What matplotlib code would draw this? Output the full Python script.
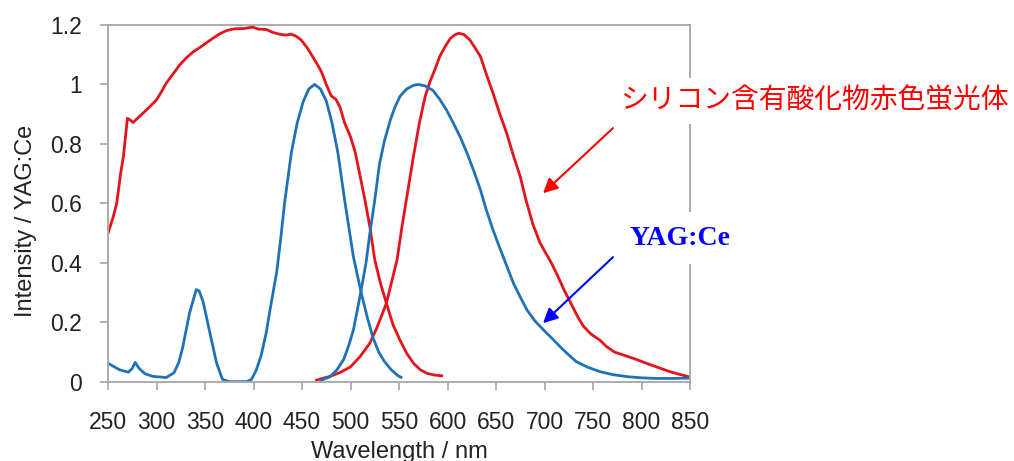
import matplotlib
matplotlib.use("Agg")
import matplotlib.pyplot as plt

plt.rcParams['font.family'] = ['Liberation Sans', 'DejaVu Sans']

# YAG:Ce  excitation / emission
yag_exc_wl = [250, 262, 271, 275, 278, 282, 288, 296, 310, 318, 323, 327, 334, 341, 344, 348,
              355, 362, 368, 375, 385, 393, 398, 403, 408, 413, 418, 424, 428, 432, 439, 445,
              451, 457, 463, 469, 475, 481, 487, 494, 503, 511, 517, 523, 529, 535, 542, 549, 552]
yag_exc = [0.062, 0.040, 0.032, 0.045, 0.065, 0.045, 0.027, 0.018, 0.014, 0.030, 0.065, 0.115,
           0.23, 0.31, 0.305, 0.27, 0.165, 0.062, 0.008, 0.0, 0.0, 0.0, 0.008, 0.04, 0.09,
           0.163, 0.26, 0.37, 0.48, 0.60, 0.77, 0.87, 0.94, 0.985, 1.0, 0.985, 0.945, 0.87,
           0.77, 0.61, 0.42, 0.30, 0.22, 0.15, 0.10, 0.068, 0.04, 0.02, 0.015]

yag_em_wl = [470, 479, 486, 493, 498, 503, 507, 511, 516, 520, 525, 530, 535, 541, 546, 551,
             558, 565, 570, 577, 585, 592, 599, 606, 613, 620, 627, 634, 640, 647, 654, 661,
             668, 675, 682, 690, 699, 708, 716, 725, 733, 745, 757, 770, 785, 800, 815, 830, 850]
yag_em = [0.005, 0.017, 0.04, 0.075, 0.12, 0.174, 0.24, 0.309, 0.40, 0.50, 0.611, 0.735, 0.81,
          0.88, 0.925, 0.96, 0.985, 0.997, 1.0, 0.995, 0.98, 0.95, 0.914, 0.87, 0.824, 0.77,
          0.71, 0.645, 0.578, 0.51, 0.449, 0.39, 0.331, 0.285, 0.241, 0.205, 0.174, 0.145,
          0.118, 0.09, 0.067, 0.048, 0.034, 0.024, 0.017, 0.013, 0.011, 0.011, 0.012]

# silicon-containing oxide red phosphor  excitation / emission
red_exc_wl = [250, 255, 259, 263, 266, 270, 273, 276, 280, 286, 293, 300, 305, 310, 317, 324,
              331, 338, 345, 351, 358, 365, 372, 380, 390, 399, 405, 413, 420, 427, 433, 439,
              444, 449, 455, 460, 465, 470, 475, 480, 485, 489, 494, 500, 505, 510, 515, 520,
              525, 531, 537, 544, 551, 558, 565, 572, 579, 587, 594]
red_exc = [0.50, 0.55, 0.60, 0.70, 0.76, 0.886, 0.88, 0.872, 0.885, 0.903, 0.925, 0.948, 0.975,
           1.004, 1.035, 1.066, 1.09, 1.11, 1.125, 1.139, 1.155, 1.17, 1.181, 1.187, 1.188,
           1.193, 1.186, 1.185, 1.175, 1.169, 1.166, 1.169, 1.162, 1.15, 1.125, 1.099, 1.072,
           1.043, 1.0, 0.962, 0.95, 0.925, 0.87, 0.824, 0.77, 0.69, 0.61, 0.52, 0.41, 0.33,
           0.264, 0.19, 0.14, 0.095, 0.062, 0.04, 0.028, 0.022, 0.02]

red_em_wl = [465, 472, 479, 490, 500, 510, 520, 527, 533, 537, 542, 548, 553, 559, 565, 571,
             577, 582, 587, 592, 598, 603, 608, 612, 617, 623, 628, 634, 640, 647, 654, 661,
             668, 675, 681, 688, 695, 700, 707, 713, 720, 727, 734, 740, 748, 757, 764, 772,
             781, 793, 805, 817, 829, 840, 848]
red_em = [0.005, 0.012, 0.018, 0.032, 0.05, 0.085, 0.13, 0.18, 0.23, 0.264, 0.33, 0.41, 0.52,
          0.64, 0.76, 0.87, 0.96, 1.01, 1.05, 1.094, 1.13, 1.155, 1.168, 1.172, 1.168, 1.15,
          1.125, 1.094, 1.035, 0.97, 0.90, 0.836, 0.76, 0.69, 0.61, 0.53, 0.47, 0.44, 0.40,
          0.36, 0.31, 0.265, 0.22, 0.187, 0.16, 0.14, 0.118, 0.10, 0.09, 0.077, 0.062, 0.048,
          0.034, 0.024, 0.017]

xticks = list(range(250, 851, 50))
yticks = [0, 0.2, 0.4, 0.6, 0.8, 1, 1.2]
yticklabels = ["0", "0.2", "0.4", "0.6", "0.8", "1", "1.2"]

blue = "#1f72b5"
red = "#e3141c"
grey = "#a6a6a6"

fig = plt.figure(figsize=(10.14, 4.61), dpi=100)
ax = fig.add_axes([108 / 1014, 1 - 381.7 / 461, 582 / 1014, 356.7 / 461])

ax.plot(red_exc_wl, red_exc, color=red, lw=2.0)
ax.plot(red_em_wl, red_em, color=red, lw=2.0)
ax.plot(yag_exc_wl, yag_exc, color=blue, lw=2.0)
ax.plot(yag_em_wl, yag_em, color=blue, lw=2.0)

ax.set_xlim(250, 850)
ax.set_ylim(0, 1.2)
ax.set_xticks(xticks)
ax.set_yticks(yticks)
ax.set_yticklabels(yticklabels)
for s in ax.spines.values():
    s.set_color(grey)
    s.set_linewidth(1.3)
ax.tick_params(axis="x", colors=grey, labelcolor="#222222", labelsize=16.5, length=6, width=1.2, pad=15)
ax.tick_params(axis="y", colors=grey, labelcolor="#222222", labelsize=16.5, length=6, width=1.2, pad=13)
ax.set_xlabel("Wavelength / nm", fontsize=17, color="#222222", labelpad=5)
ax.set_ylabel("Intensity / YAG:Ce", fontsize=17, color="#222222")
ax.yaxis.set_label_coords(-0.1225, 0.4505)

# annotations
ax.annotate("", xy=(698.5, 0.634), xytext=(770.6, 0.853),
            arrowprops=dict(arrowstyle="-|>", color="#ff0000", lw=1.5, mutation_scale=22,
                            shrinkA=0, shrinkB=0))
ax.annotate("", xy=(698.5, 0.197), xytext=(770.6, 0.419),
            arrowprops=dict(arrowstyle="-|>", color="#0000ff", lw=1.5, mutation_scale=22,
                            shrinkA=0, shrinkB=0))

fig.text(620 / 1014, 1 - 101 / 461, "シリコン含有酸化物赤色蛍光体", color="#ff0000", fontsize=20,
         family=["Noto Sans CJK JP", "DejaVu Sans"], va="center", ha="left",
         bbox=dict(facecolor="white", edgecolor="none", pad=6))
fig.text(630 / 1014, 1 - 238 / 461, "YAG:Ce", color="#0000ff", fontsize=20, fontweight="bold",
         family=["Liberation Serif", "DejaVu Serif"], va="center", ha="left",
         bbox=dict(facecolor="white", edgecolor="none", pad=10))

fig.savefig("out.png", dpi=100, facecolor="white")
